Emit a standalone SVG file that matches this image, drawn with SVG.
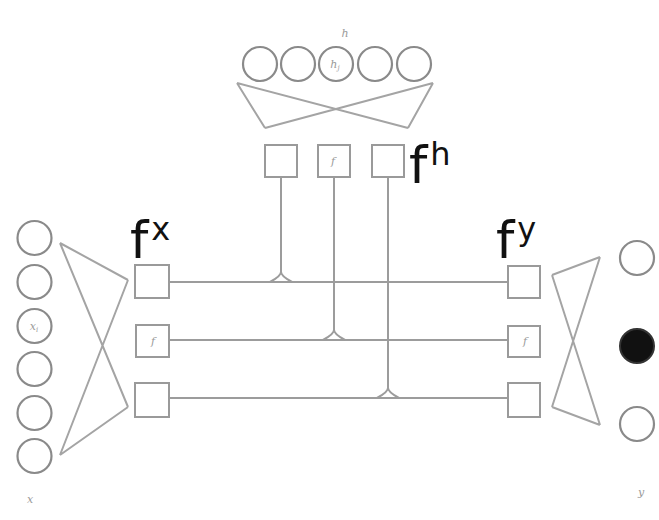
<svg xmlns="http://www.w3.org/2000/svg" width="659" height="520" viewBox="0 0 659 520">
  <style>
    .unit { fill: #ffffff; stroke: #8a8a8a; stroke-width: 2.2; }
    .out { fill: #111111; stroke: #333333; stroke-width: 2; }
    .box { fill: #ffffff; stroke: #9a9a9a; stroke-width: 2; }
    .wire { fill: none; stroke: #9c9c9c; stroke-width: 2; }
    .fan { fill: none; stroke: #a4a4a4; stroke-width: 2; }
    .big { font-family: "DejaVu Sans", sans-serif; font-size: 52px; fill: #111111; }
    .sup { font-family: "DejaVu Sans", sans-serif; font-size: 32px; fill: #111111; }
    .tiny { font-family: "DejaVu Serif", serif; font-style: italic; font-size: 11px; fill: #9a9a9a; }
  </style>
  <rect width="659" height="520" fill="#ffffff"/>

  <!-- connectors: factor wires and bow-tie weight fans -->
  <g id="connectors">
    <!-- hidden layer fan -->
    <path class="fan" d="M237,83 L265,128 M433,83 L408,128 M237,83 L408,128 M433,83 L265,128"/>
    <!-- input layer fan -->
    <path class="fan" d="M60,243 L128,280 M60,455 L128,407 M60,243 L128,407 M60,455 L128,280"/>
    <!-- output layer fan -->
    <path class="fan" d="M552,275 L600,257 M552,407 L600,425 M552,275 L600,425 M552,407 L600,257"/>
    <!-- horizontal factor lines -->
    <path class="wire" d="M169,282 H508 M169,340 H508 M169,398 H508"/>
    <!-- vertical lines from hidden factors -->
    <path class="wire" d="M281,177 V272 M334,177 V330 M388,177 V388"/>
    <!-- multiplicative joins -->
    <path class="wire" d="M270,282 Q281,276 281,272 Q281,276 292,282"/>
    <path class="wire" d="M323,340 Q334,334 334,330 Q334,334 345,340"/>
    <path class="wire" d="M377,398 Q388,392 388,388 Q388,392 399,398"/>
  </g>

  <!-- hidden units -->
  <g id="hidden-units">
    <circle class="unit" cx="260" cy="64" r="17"/>
    <circle class="unit" cx="298" cy="64" r="17"/>
    <circle class="unit" cx="336" cy="64" r="17"/>
    <circle class="unit" cx="375" cy="64" r="17"/>
    <circle class="unit" cx="414" cy="64" r="17"/>
    <text class="tiny" x="345" y="37" text-anchor="middle">h</text>
    <text class="tiny" x="335" y="68" text-anchor="middle">h<tspan font-size="7" dy="2">j</tspan></text>
  </g>

  <!-- hidden factors -->
  <g id="hidden-factors">
    <rect class="box" x="265" y="145" width="32" height="32"/>
    <rect class="box" x="318" y="145" width="32" height="32"/>
    <rect class="box" x="372" y="145" width="32" height="32"/>
    <text class="tiny" x="333" y="165" text-anchor="middle">f</text>
    <text class="big" x="409" y="183">f<tspan class="sup" dx="3" dy="-18">h</tspan></text>
  </g>

  <!-- input units -->
  <g id="input-units">
    <circle class="unit" cx="34.5" cy="238" r="17"/>
    <circle class="unit" cx="34.5" cy="282" r="17"/>
    <circle class="unit" cx="34.5" cy="326" r="17"/>
    <circle class="unit" cx="34.5" cy="369" r="17"/>
    <circle class="unit" cx="34.5" cy="413" r="17"/>
    <circle class="unit" cx="34.5" cy="456" r="17"/>
    <text class="tiny" x="34" y="330" text-anchor="middle">x<tspan font-size="7" dy="2">i</tspan></text>
    <text class="tiny" x="30" y="503" text-anchor="middle">x</text>
  </g>

  <!-- input factors -->
  <g id="input-factors">
    <rect class="box" x="135" y="265" width="34" height="33"/>
    <rect class="box" x="136" y="325" width="33" height="32"/>
    <rect class="box" x="135" y="383" width="34" height="34"/>
    <text class="tiny" x="153" y="345" text-anchor="middle">f</text>
    <text class="big" x="130" y="258">f<tspan class="sup" dx="3" dy="-18">x</tspan></text>
  </g>

  <!-- output factors -->
  <g id="output-factors">
    <rect class="box" x="508" y="266" width="32" height="32"/>
    <rect class="box" x="508" y="326" width="32" height="31"/>
    <rect class="box" x="508" y="383" width="32" height="34"/>
    <text class="tiny" x="525" y="345" text-anchor="middle">f</text>
    <text class="big" x="496" y="258">f<tspan class="sup" dx="3" dy="-18">y</tspan></text>
  </g>

  <!-- output units -->
  <g id="output-units">
    <circle class="unit" cx="637" cy="258" r="17"/>
    <circle class="out" cx="637" cy="346" r="17"/>
    <circle class="unit" cx="637" cy="424" r="17"/>
    <text class="tiny" x="641" y="496" text-anchor="middle">y</text>
  </g>
</svg>
